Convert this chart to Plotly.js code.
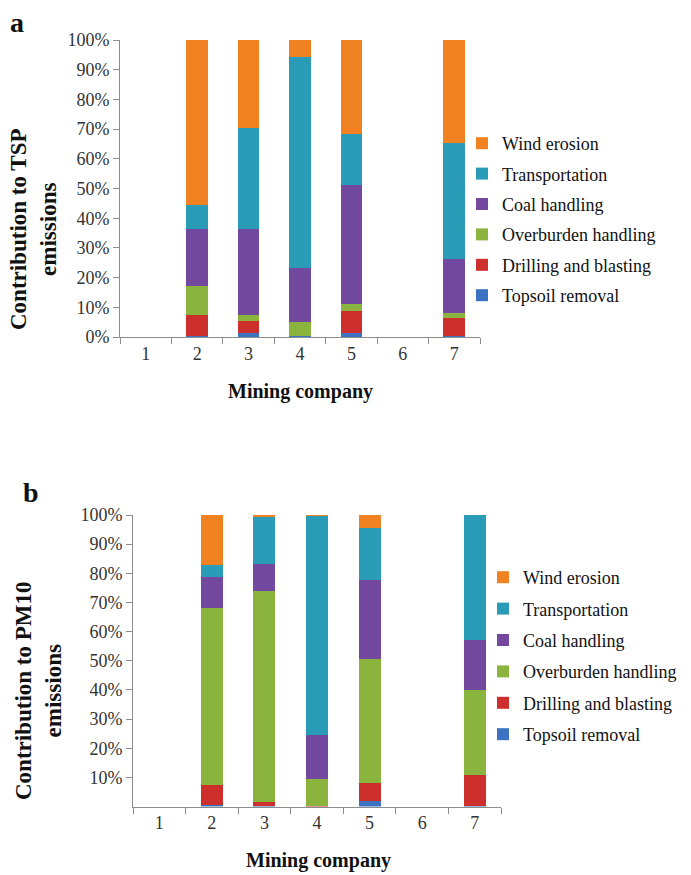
<!DOCTYPE html>
<html>
<head>
<meta charset="utf-8">
<script src="https://cdn.plot.ly/plotly-3.0.1.min.js"></script>
<style>html,body{margin:0;padding:0;background:#fff;}#chart{width:691px;height:875px;}</style>
</head>
<body>
<div id="chart"></div>
<script>
// Mining companies (x categories)
const companies = ["1", "2", "3", "4", "5", "6", "7"];
const sources = ["Topsoil removal", "Drilling and blasting", "Overburden handling", "Coal handling", "Transportation", "Wind erosion"];

// Panel a: contribution to TSP emissions (%)
const tspTopsoil    = [null, 0.5, 1.2, 0.2, 1.2, null, 0.3];
const tspDrilling   = [null, 6.9, 4.2, 0.3, 7.6, null, 6.2];
const tspOverburden = [null, 9.8, 2.0, 4.5, 2.4, null, 1.7];
const tspCoal       = [null, 19.1, 29.1, 18.3, 40.0, null, 18.0];
const tspTransport  = [null, 8.1, 34.0, 71.0, 17.0, null, 39.2];
const tspWind       = [null, 55.6, 29.5, 5.7, 31.8, null, 34.6];

// Panel b: contribution to PM10 emissions (%)
const pmTopsoil    = [null, 0.5, 0.2, 0.0, 1.8, null, 0.2];
const pmDrilling   = [null, 6.9, 1.3, 0.2, 6.4, null, 10.7];
const pmOverburden = [null, 60.6, 72.6, 9.2, 42.3, null, 29.1];
const pmCoal       = [null, 10.7, 9.2, 15.2, 27.3, null, 17.2];
const pmTransport  = [null, 4.1, 15.9, 74.9, 17.7, null, 42.8];
const pmWind       = [null, 17.2, 0.8, 0.5, 4.5, null, 0.0];

// Y tick values and labels
const tickValsA = [0, 10, 20, 30, 40, 50, 60, 70, 80, 90, 100];
const tickTextA = ["0%", "10%", "20%", "30%", "40%", "50%", "60%", "70%", "80%", "90%", "100%"];
const tickValsB = [10, 20, 30, 40, 50, 60, 70, 80, 90, 100];
const tickTextB = ["10%", "20%", "30%", "40%", "50%", "60%", "70%", "80%", "90%", "100%"];

const colors = ["#3C72C2", "#CD2F2D", "#8AB43E", "#7349A0", "#2A9CB8", "#F08221"];
const tspSeries = [tspTopsoil, tspDrilling, tspOverburden, tspCoal, tspTransport, tspWind];
const pmSeries  = [pmTopsoil, pmDrilling, pmOverburden, pmCoal, pmTransport, pmWind];

const W = 691, H = 875;
const px = v => v / W;
const py = v => 1 - v / H;

const serif = "Liberation Serif";
const tickFont = () => ({family: serif, size: 18, color: "#333"});
const legFont = () => ({family: serif, size: 18, color: "#111"});

const traces = [];
sources.forEach((name, i) => {
  traces.push({
    type: "bar", name: name, x: companies, y: tspSeries[i],
    xaxis: "x", yaxis: "y", width: 0.42,
    marker: {color: colors[i], line: {width: 0}},
    legend: "legend", legendgroup: "a" + i, legendrank: 100 - i
  });
});
sources.forEach((name, i) => {
  traces.push({
    type: "bar", name: name, x: companies, y: pmSeries[i],
    xaxis: "x2", yaxis: "y2", width: 0.42,
    marker: {color: colors[i], line: {width: 0}},
    legend: "legend2", legendgroup: "b" + i, legendrank: 100 - i
  });
});

const xAxis = (dom, anchor) => ({
  type: "category", categoryorder: "array", categoryarray: companies,
  range: [-0.5, 6.5], showline: true, linecolor: "#8c8c8c", linewidth: 1,
  ticks: "outside", tickson: "boundaries", ticklen: 6, tickcolor: "#8c8c8c",
  tickfont: tickFont(), showgrid: false, zeroline: false, fixedrange: true,
  domain: dom, anchor: anchor
});
const yAxis = (dom, anchor, vals, text) => ({
  range: [0, 100], showline: true, linecolor: "#8c8c8c", linewidth: 1,
  ticks: "outside", ticklen: 6, tickcolor: "#8c8c8c",
  tickmode: "array", tickvals: vals, ticktext: text,
  tickfont: tickFont(), showgrid: false, zeroline: false, fixedrange: true,
  domain: dom, anchor: anchor
});

const layout = {
  width: W, height: H,
  margin: {l: 0, r: 0, t: 0, b: 0},
  font: {family: serif, size: 18, color: "#222"},
  paper_bgcolor: "#fff", plot_bgcolor: "#fff",
  barmode: "stack", showlegend: true,
  xaxis: xAxis([px(120), px(480)], "y"),
  yaxis: yAxis([py(337), py(40)], "x", tickValsA, tickTextA),
  xaxis2: xAxis([px(133), px(501)], "y2"),
  yaxis2: yAxis([py(806.5), py(515)], "x2", tickValsB, tickTextB),
  legend: {
    x: px(462), y: py(125), xanchor: "left", yanchor: "top",
    traceorder: "grouped", tracegroupgap: 4,
    font: legFont(), bgcolor: "rgba(0,0,0,0)", itemclick: false
  },
  legend2: {
    x: px(483), y: py(559), xanchor: "left", yanchor: "top",
    traceorder: "grouped", tracegroupgap: 5,
    font: legFont(), bgcolor: "rgba(0,0,0,0)", itemclick: false
  },
  annotations: [
    {text: "<b>a</b>", xref: "paper", yref: "paper", x: px(8), y: py(5), xanchor: "left", yanchor: "top",
     showarrow: false, font: {family: serif, size: 28, color: "#111"}},
    {text: "<b>b</b>", xref: "paper", yref: "paper", x: px(21), y: py(475), xanchor: "left", yanchor: "top",
     showarrow: false, font: {family: serif, size: 28, color: "#111"}},
    {text: "<b>Contribution to TSP<br>emissions</b>", xref: "paper", yref: "paper", x: px(33), y: py(229),
     xanchor: "center", yanchor: "middle", textangle: -90, showarrow: false,
     font: {family: serif, size: 23, color: "#111"}},
    {text: "<b>Contribution to PM10<br>emissions</b>", xref: "paper", yref: "paper", x: px(38), y: py(691),
     xanchor: "center", yanchor: "middle", textangle: -90, showarrow: false,
     font: {family: serif, size: 23, color: "#111"}},
    {text: "<b>Mining company</b>", xref: "paper", yref: "paper", x: px(300), y: py(392),
     xanchor: "center", yanchor: "middle", showarrow: false,
     font: {family: serif, size: 20, color: "#111"}},
    {text: "<b>Mining company</b>", xref: "paper", yref: "paper", x: px(318), y: py(860),
     xanchor: "center", yanchor: "middle", showarrow: false,
     font: {family: serif, size: 20, color: "#111"}}
  ]
};

Plotly.newPlot("chart", traces, layout, {displayModeBar: false, staticPlot: true});
</script>
</body>
</html>
